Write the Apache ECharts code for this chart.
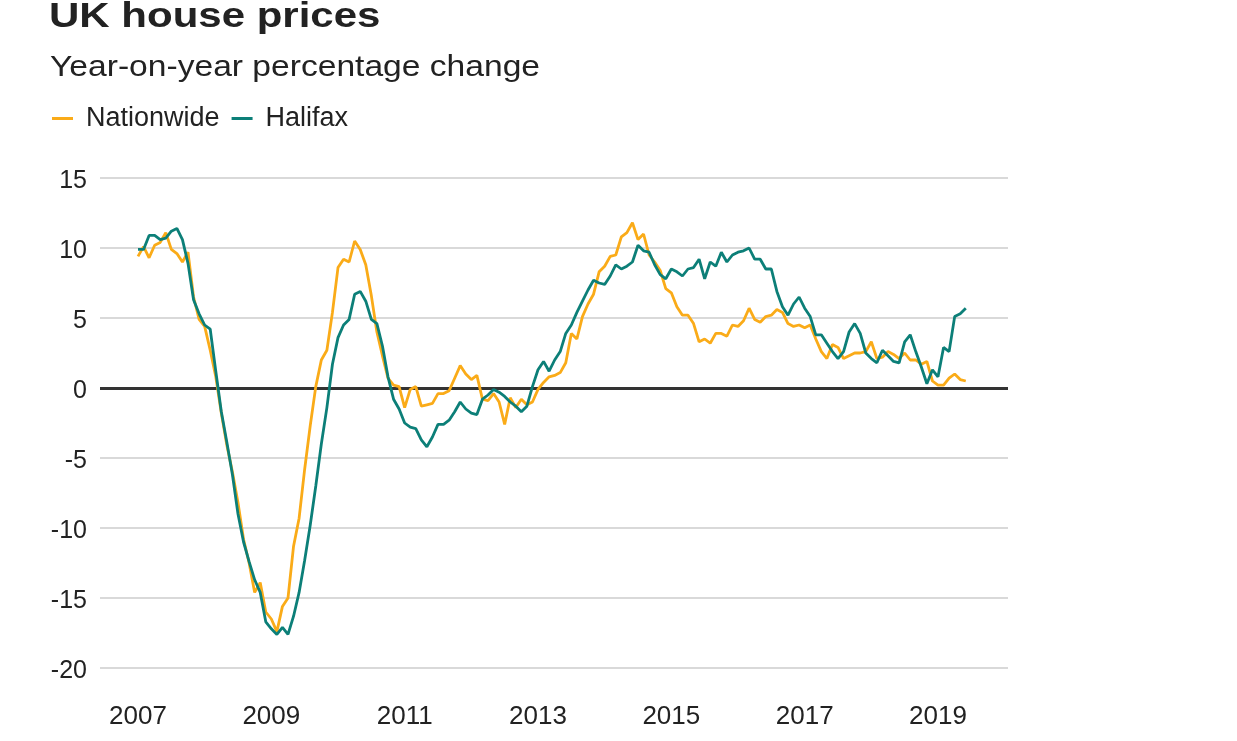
<!DOCTYPE html>
<html>
<head>
<meta charset="utf-8">
<script src="https://cdn.jsdelivr.net/npm/echarts@6/dist/echarts.min.js"></script>
<style>
html,body{margin:0;padding:0;background:#fff;}
#chart{width:1237px;height:741px;}
</style>
</head>
<body>
<div id="chart"></div>
<script>
// Monthly observations from Jan 2007 to Jun 2019
const startYear = 2007;
const yearTicks = [2007, 2009, 2011, 2013, 2015, 2017, 2019];
const yTicks = [-20, -15, -10, -5, 0, 5, 10, 15];

const nationwide = [
  9.4, 10.1, 9.3, 10.2, 10.4, 11.1, 9.9, 9.6, 9.0, 9.7, 6.5, 4.9,
  4.4, 2.7, 0.8, -1.8, -4.1, -6.0, -8.2, -10.8, -12.5, -14.6, -13.9, -16.0,
  -16.5, -17.4, -15.6, -15.0, -11.3, -9.3, -5.8, -2.7, 0.1, 2.0, 2.7, 5.4,
  8.6, 9.2, 9.0, 10.5, 9.9, 8.8, 6.6, 4.0, 2.3, 0.7, 0.2, 0.1,
  -1.4, -0.1, 0.1, -1.3, -1.2, -1.1, -0.4, -0.4, -0.2, 0.7, 1.6, 1.0,
  0.6, 0.9, -0.8, -0.9, -0.4, -1.0, -2.6, -0.7, -1.4, -0.8, -1.2, -1.0,
  -0.1, 0.4, 0.8, 0.9, 1.1, 1.8, 3.9, 3.5, 5.1, 6.0, 6.7, 8.3,
  8.7, 9.4, 9.5, 10.8, 11.1, 11.8, 10.6, 11.0, 9.5, 9.0, 8.4, 7.1,
  6.8, 5.8, 5.2, 5.2, 4.6, 3.3, 3.5, 3.2, 3.9, 3.9, 3.7, 4.5,
  4.4, 4.8, 5.7, 4.9, 4.7, 5.1, 5.2, 5.6, 5.4, 4.6, 4.4, 4.5,
  4.3, 4.5, 3.5, 2.6, 2.1, 3.1, 2.9, 2.1, 2.3, 2.5, 2.5, 2.6,
  3.3, 2.1, 2.2, 2.6, 2.4, 2.1, 2.5, 2.0, 2.0, 1.7, 1.9, 0.5,
  0.2, 0.2, 0.7, 1.0, 0.6, 0.5
];

const halifax = [
  9.9, 9.9, 10.9, 10.9, 10.6, 10.7, 11.2, 11.4, 10.6, 8.9, 6.3, 5.3,
  4.5, 4.2, 1.2, -1.7, -3.9, -6.2, -9.0, -11.0, -12.4, -13.7, -14.6, -16.7,
  -17.2, -17.6, -17.1, -17.6, -16.3, -14.6, -12.3, -9.8, -7.0, -4.0, -1.4, 1.7,
  3.6, 4.5, 4.9, 6.7, 6.9, 6.2, 4.9, 4.6, 3.0, 0.8, -0.8, -1.5,
  -2.5, -2.8, -2.9, -3.7, -4.2, -3.5, -2.6, -2.6, -2.3, -1.7, -1.0, -1.5,
  -1.8, -1.9, -0.8, -0.5, -0.1, -0.3, -0.6, -1.0, -1.3, -1.7, -1.3, 0.1,
  1.3, 1.9, 1.2, 2.0, 2.6, 3.9, 4.5, 5.4, 6.2, 7.0, 7.7, 7.5,
  7.4, 8.0, 8.8, 8.5, 8.7, 9.0, 10.2, 9.8, 9.7, 8.8, 8.1, 7.8,
  8.5, 8.3, 8.0, 8.5, 8.6, 9.2, 7.8, 9.0, 8.7, 9.7, 9.0, 9.5,
  9.7, 9.8, 10.0, 9.2, 9.2, 8.5, 8.5, 6.9, 5.8, 5.2, 6.0, 6.5,
  5.7, 5.1, 3.8, 3.8, 3.2, 2.6, 2.1, 2.6, 4.0, 4.6, 3.9, 2.5,
  2.1, 1.8, 2.7, 2.3, 1.9, 1.8, 3.3, 3.8, 2.6, 1.5, 0.3, 1.3,
  0.8, 2.9, 2.6, 5.1, 5.3, 5.7
];

const toPairs = arr => arr.map((v, i) => [startYear + i / 12, v]);

const FONT = '"Liberation Sans", Arial, Helvetica, sans-serif';
const chart = echarts.init(document.getElementById('chart'), null, {renderer: 'canvas'});

chart.setOption({
  animation: false,
  backgroundColor: '#ffffff',
  graphic: [
    {
      type: 'text', x: 49, y: 17, scaleX: 1.2,
      style: {text: 'UK house prices', font: 'bold 35px ' + FONT, fill: '#222222', verticalAlign: 'middle', align: 'left'}
    },
    {
      type: 'text', x: 50, y: 68, scaleX: 1.12,
      style: {text: 'Year-on-year percentage change', font: '30px ' + FONT, fill: '#222222', verticalAlign: 'middle', align: 'left'}
    }
  ],
  legend: {
    left: 52, top: 105, padding: 0,
    icon: 'rect', itemWidth: 21, itemHeight: 3, itemGap: 12,
    textStyle: {fontFamily: FONT, fontSize: 27, color: '#222222', padding: [0, 0, 0, 8]},
    data: ['Nationwide', 'Halifax']
  },
  grid: {left: 100, right: 229, top: 178, bottom: 73, containLabel: false},
  xAxis: {
    type: 'value', min: 2006.43, max: 2020.05,
    axisLine: {show: false}, axisTick: {show: false}, splitLine: {show: false},
    axisLabel: {
      customValues: yearTicks, formatter: v => String(Math.round(v)),
      fontFamily: FONT, fontSize: 26, color: '#222222', margin: 36, verticalAlign: 'top'
    }
  },
  yAxis: {
    type: 'value', min: yTicks[0], max: yTicks[yTicks.length - 1], interval: 5,
    axisLine: {show: false}, axisTick: {show: false},
    splitLine: {show: true, lineStyle: {color: '#cccccc', width: 1.6}},
    axisLabel: {
      margin: 13,
      formatter: v => '{t|' + v + '}',
      rich: {t: {fontFamily: FONT, fontSize: 25, color: '#222222', padding: [6, 0, 0, 0]}}
    }
  },
  series: [
    {
      name: 'Nationwide', type: 'line', data: toPairs(nationwide),
      showSymbol: false, symbol: 'none',
      lineStyle: {color: '#FAAB18', width: 2.8}, itemStyle: {color: '#FAAB18'},
      markLine: {
        silent: true, symbol: 'none', label: {show: false},
        lineStyle: {color: '#333333', width: 3, type: 'solid'},
        data: [{yAxis: 0}], z: 1
      }
    },
    {
      name: 'Halifax', type: 'line', data: toPairs(halifax),
      showSymbol: false, symbol: 'none',
      lineStyle: {color: '#0C7F78', width: 2.8}, itemStyle: {color: '#0C7F78'}
    }
  ]
});
</script>
</body>
</html>
